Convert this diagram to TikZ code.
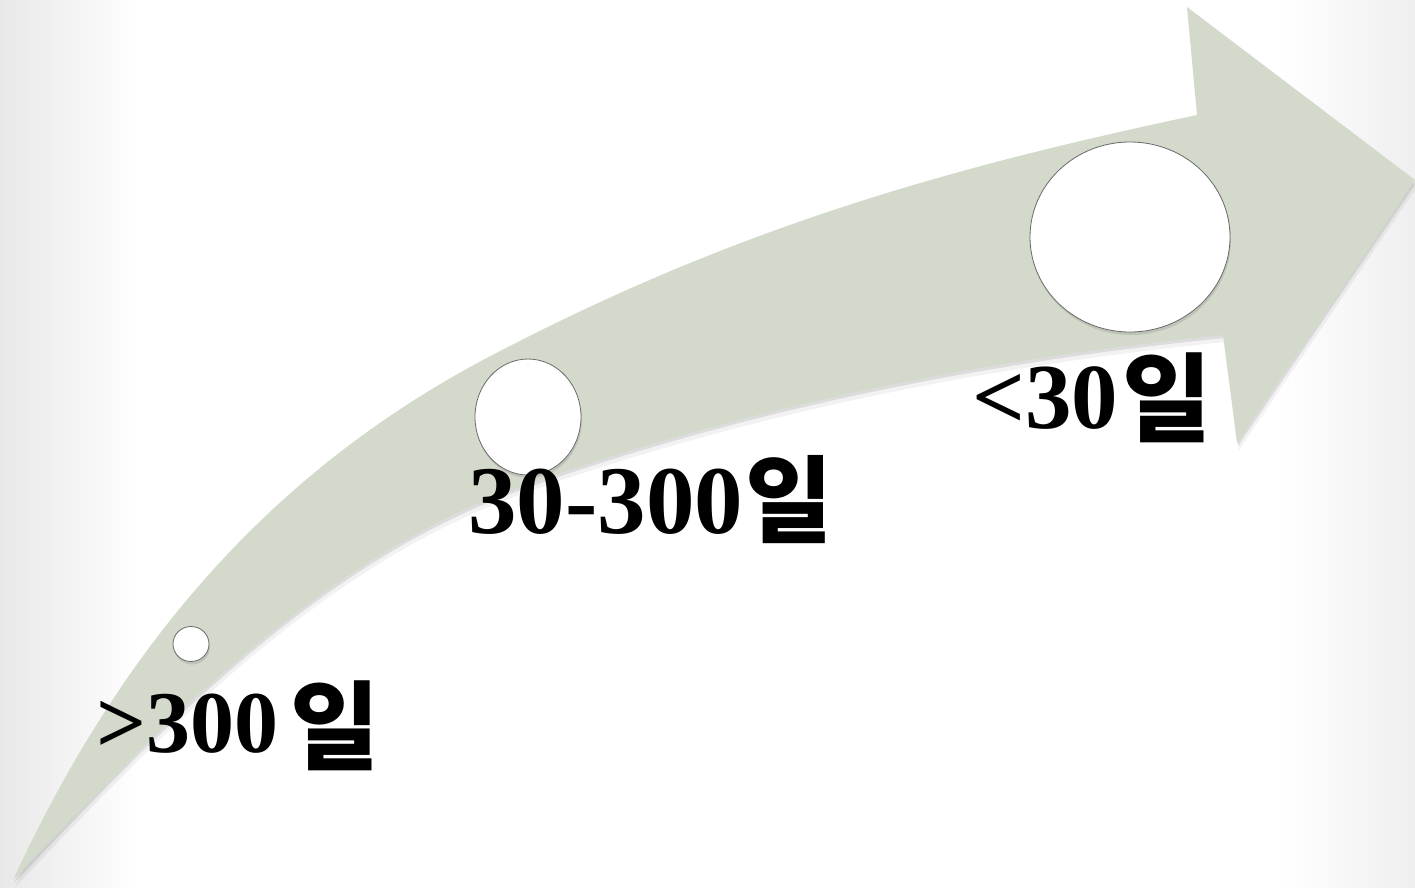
\documentclass[tikz,border=0pt]{standalone}
\usepackage{fontspec}
\setmainfont{Liberation Serif}
\newfontfamily\kfont{Noto Sans CJK KR}
\usetikzlibrary{shadows,shapes.geometric}
\definecolor{arrowgreen}{RGB}{211,218,203}
\definecolor{edgegray}{RGB}{232,232,232}
\definecolor{rimgray}{RGB}{105,105,105}
\tikzset{
  arrowpath/.style={insert path={
    (13,880) .. controls (122,644) and (271,473) .. (483,360)
    .. controls (733,228) and (947,168) .. (1197,115)
    -- (1187,7) -- (1415,180) -- (1237,443) -- (1223,335)
    .. controls (984,359) and (743,407) .. (517,488)
    .. controls (317,560) and (155,731) .. (13,880)
    -- cycle}},
  stopdot/.style={ellipse, draw=rimgray, line width=0.8pt, fill=white, inner sep=0pt,
    drop shadow={shadow xshift=1pt, shadow yshift=-3pt, opacity=0.25}},
  lbl/.style={anchor=base west, inner sep=0pt, font=\bfseries},
}
\begin{document}
\begin{tikzpicture}[x=1pt,y=-1pt]
\useasboundingbox (0,0) rectangle (1415,887);
\fill[white] (0,0) rectangle (1415,887);
\shade[left color=edgegray, right color=white] (0,0) rectangle (140,887);
\shade[left color=white, right color=edgegray!70] (1280,0) rectangle (1415,887);
% arrow shadow and body
\fill[black, opacity=0.05, shift={(2,7)}, arrowpath];
\fill[black, opacity=0.09, shift={(1,3)}, arrowpath];
\fill[arrowgreen, arrowpath];
% stops
\node[stopdot, minimum width=36pt, minimum height=35pt] (s1) at (191,644) {};
\node[stopdot, minimum width=106pt, minimum height=116pt] (s2) at (528,417) {};
\node[stopdot, minimum width=200pt, minimum height=190pt] (s3) at (1130,237) {};
% labels
\node[lbl] (t1) at (96,752) {\fontsize{88}{88}\selectfont >300\kern 12pt{\kfont\bfseries\fontsize{97}{97}\selectfont\raisebox{-10pt}{일}}};
\node[lbl] (t2) at (468,533) {\fontsize{97}{97}\selectfont 30-300\kern 2pt{\kfont\bfseries\fontsize{95}{95}\selectfont\raisebox{-2pt}{일}}};
\node[lbl] (t3) at (972,428) {\fontsize{93}{93}\selectfont <30\kern 4pt{\kfont\bfseries\fontsize{97}{97}\selectfont\raisebox{-6pt}{일}}};
\end{tikzpicture}
\end{document}
